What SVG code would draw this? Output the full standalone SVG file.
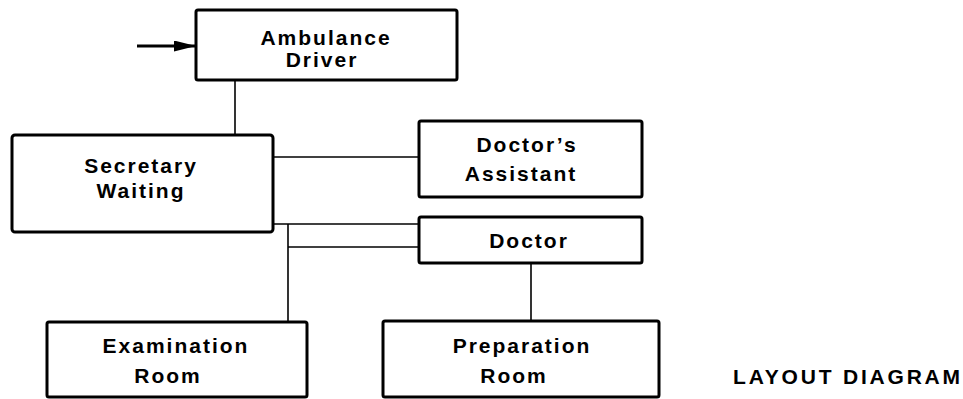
<svg xmlns="http://www.w3.org/2000/svg" width="963" height="399" viewBox="0 0 963 399">
<style>
.box{fill:#fff;stroke:#000;stroke-width:3}
.t{font-family:"Liberation Sans",Arial,sans-serif;font-weight:bold;font-size:21px;letter-spacing:2px;text-anchor:middle;fill:#000}
.c{fill:none;stroke:#000;stroke-width:1.6}
</style>
<defs>
<marker id="ah" markerWidth="22" markerHeight="11" refX="22" refY="5.5" orient="auto" markerUnits="userSpaceOnUse" viewBox="0 0 22 11">
<path d="M0,0 L22,5.5 L0,11 Z" fill="#000"/>
</marker>
</defs>
<g id="connectors">
<line x1="137" y1="46" x2="196" y2="46" stroke="#000" stroke-width="3" marker-end="url(#ah)"/>
<line class="c" x1="235" y1="80" x2="235" y2="135"/>
<line class="c" x1="273" y1="157" x2="419" y2="157"/>
<line class="c" x1="273" y1="224" x2="419" y2="224"/>
<line class="c" x1="288" y1="247" x2="419" y2="247"/>
<line class="c" x1="288" y1="224" x2="288" y2="322"/>
<line class="c" x1="531" y1="263" x2="531" y2="321"/>
</g>
<g id="ambulance">
<rect class="box" x="196" y="10" width="261" height="70" rx="2"/>
<text class="t" x="326" y="45">Ambulance</text>
<text class="t" x="322" y="67">Driver</text>
</g>
<g id="secretary">
<rect class="box" x="12" y="135" width="261" height="97" rx="3"/>
<text class="t" x="141" y="173">Secretary</text>
<text class="t" x="141" y="198">Waiting</text>
</g>
<g id="assistant">
<rect class="box" x="419" y="121" width="223" height="76" rx="2"/>
<text class="t" x="527" y="152">Doctor’s</text>
<text class="t" x="521" y="181">Assistant</text>
</g>
<g id="doctor">
<rect class="box" x="419" y="217" width="223" height="46" rx="2"/>
<text class="t" x="529" y="248">Doctor</text>
</g>
<g id="examination">
<rect class="box" x="47" y="322" width="260" height="75" rx="2"/>
<text class="t" x="176" y="353">Examination</text>
<text class="t" x="168" y="383">Room</text>
</g>
<g id="preparation">
<rect class="box" x="383" y="321" width="276" height="76" rx="2"/>
<text class="t" x="522" y="353">Preparation</text>
<text class="t" x="514" y="383">Room</text>
</g>
<text class="t" x="848" y="384" style="letter-spacing:2.8px">LAYOUT DIAGRAM</text>
</svg>
